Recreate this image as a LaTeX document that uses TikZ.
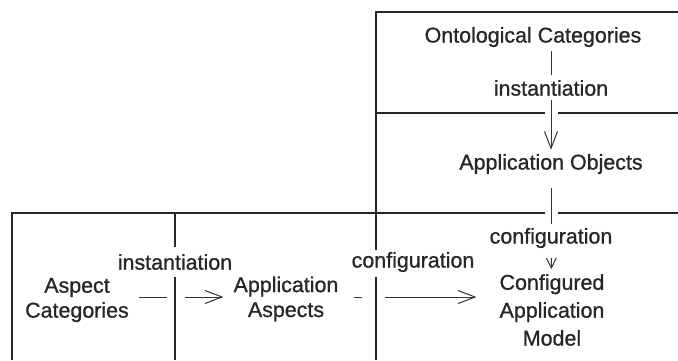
\documentclass[tikz,border=0pt]{standalone}
\usepackage{fontspec}
\setmainfont[FakeBold=0.9]{Liberation Sans}
\usetikzlibrary{arrows.meta}
\begin{document}
\begin{tikzpicture}[x=1bp,y=-1bp,
  frame/.style={line width=2.6bp, draw=black!85},
  link/.style={line width=1bp, draw=black!80},
  vee/.style={-{Straight Barb[length=17bp,width=13bp,line width=1bp]}},
  smallvee/.style={-{Straight Barb[length=10bp,width=10bp,line width=1bp]}},
  lbl/.style={font=\fontsize{21.5}{25}\selectfont, inner sep=0pt, align=center, text=black!85},
]
\useasboundingbox (0,0) rectangle (678,360);

% partition frames
\draw[frame] (678,12) -- (376,12) -- (376,250);
\draw[frame] (376,277) -- (376,360);
\draw[frame] (376,113) -- (545,113);
\draw[frame] (558,113) -- (678,113);
\draw[frame] (12,360) -- (12,213) -- (545,213);
\draw[frame] (558,213) -- (678,213);
\draw[frame] (175,213) -- (175,247);
\draw[frame] (175,277) -- (175,360);

% category and model labels
\node[lbl] (oc) at (533,37) {Ontological Categories};
\node[lbl] (inst1) at (551,88) {instantiation};
\node[lbl] (ao) at (551,164) {Application Objects};
\node[lbl] (conf1) at (551,238) {configuration};
\node[lbl, font=\fontsize{21.5}{28}\selectfont] (cam) at (552,310) {Configured\\Application\\Model};
\node[lbl] (ac) at (77,300) {Aspect\\Categories};
\node[lbl] (inst2) at (175,262) {instantiation};
\node[lbl] (aa) at (286,299) {Application\\Aspects};
\node[lbl] (conf2) at (413,262) {configuration};

% crossing points on the frame lines
\coordinate (b1) at (175,297);
\coordinate (b2) at (376,297);

% vertical instantiation / configuration
\draw[link, shorten <=4bp, shorten >=5bp] (oc.south -| inst1) -- (inst1);
\draw[link, vee, shorten <=4bp, shorten >=4bp] (inst1) -- (ao);
\draw[link, shorten <=14bp, shorten >=4bp] (ao) -- (conf1);
\draw[link, smallvee, shorten <=10bp, shorten >=5bp] (conf1) -- (cam);

% horizontal instantiation
\draw[link, shorten <=10bp, shorten >=8bp] (ac.east |- b1) -- (b1);
\draw[link, vee, shorten <=10bp, shorten >=10bp] (b1) -- (aa.west |- b1);

% horizontal configuration
\draw[link, shorten <=15bp, shorten >=14bp] (aa.east |- b2) -- (b2);
\draw[link, vee, shorten <=9bp, shorten >=23bp] (b2) -- (cam.west |- b2);
\end{tikzpicture}
\end{document}
